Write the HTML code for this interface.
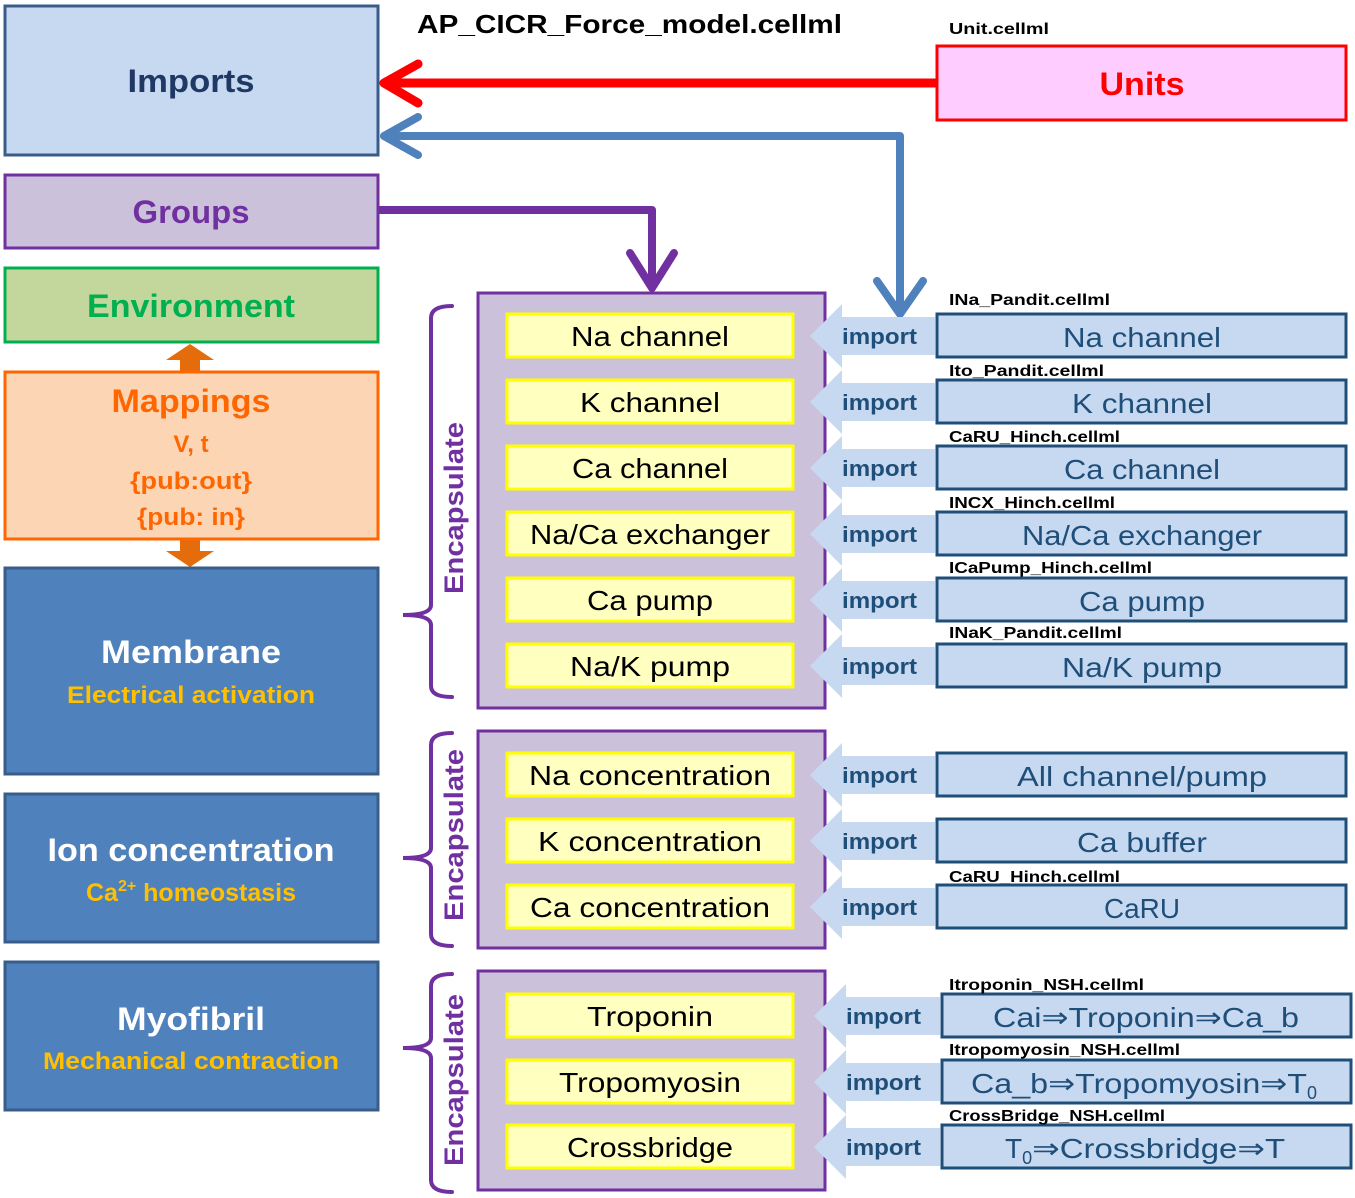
<!DOCTYPE html>
<html><head><meta charset="utf-8"><style>
html,body{margin:0;padding:0;background:#fff;}
svg{display:block;font-family:"Liberation Sans",sans-serif;}
.b{font-weight:bold;}
</style></head><body>
<svg width="1355" height="1198" viewBox="0 0 1355 1198" xmlns="http://www.w3.org/2000/svg">
<!-- Title -->
<text x="417" y="33" class="b" font-size="26" textLength="425" lengthAdjust="spacingAndGlyphs">AP_CICR_Force_model.cellml</text>
<text x="949" y="34" class="b" font-size="16" textLength="100" lengthAdjust="spacingAndGlyphs">Unit.cellml</text>

<!-- Left boxes -->
<rect x="5" y="6" width="373" height="149" fill="#c6d9f1" stroke="#385d8a" stroke-width="3"/>
<text x="191" y="92" text-anchor="middle" class="b" font-size="32" fill="#1f3864" textLength="127" lengthAdjust="spacingAndGlyphs">Imports</text>

<rect x="5" y="175" width="373" height="73" fill="#ccc1da" stroke="#7030a0" stroke-width="3"/>
<text x="191" y="223" text-anchor="middle" class="b" font-size="32" fill="#7030a0" textLength="117" lengthAdjust="spacingAndGlyphs">Groups</text>

<rect x="5" y="268" width="373" height="74" fill="#c3d69b" stroke="#00b050" stroke-width="3"/>
<text x="191" y="317" text-anchor="middle" class="b" font-size="32" fill="#00b050" textLength="208" lengthAdjust="spacingAndGlyphs">Environment</text>

<!-- orange double arrows -->
<polygon points="190,344 214,360 200,360 200,371 180,371 180,360 166,360" fill="#e46c0a"/>
<polygon points="190,567 214,551 200,551 200,540 180,540 180,551 166,551" fill="#e46c0a"/>

<rect x="5" y="372" width="373" height="167" fill="#fcd5b5" stroke="#ff6600" stroke-width="3"/>
<text x="191" y="412" text-anchor="middle" class="b" font-size="32" fill="#ff6600" textLength="159" lengthAdjust="spacingAndGlyphs">Mappings</text>
<text x="191" y="452" text-anchor="middle" class="b" font-size="24" fill="#ff6600">V, t</text>
<text x="191" y="489" text-anchor="middle" class="b" font-size="24" fill="#ff6600" textLength="122" lengthAdjust="spacingAndGlyphs">{pub:out}</text>
<text x="191" y="525" text-anchor="middle" class="b" font-size="24" fill="#ff6600" textLength="108" lengthAdjust="spacingAndGlyphs">{pub: in}</text>

<rect x="5" y="568" width="373" height="206" fill="#4f81bd" stroke="#385d8a" stroke-width="3"/>
<text x="191" y="663" text-anchor="middle" class="b" font-size="32" fill="#fff" textLength="180" lengthAdjust="spacingAndGlyphs">Membrane</text>
<text x="191" y="703" text-anchor="middle" class="b" font-size="24" fill="#ffc000" textLength="248" lengthAdjust="spacingAndGlyphs">Electrical activation</text>

<rect x="5" y="794" width="373" height="148" fill="#4f81bd" stroke="#385d8a" stroke-width="3"/>
<text x="191" y="861" text-anchor="middle" class="b" font-size="32" fill="#fff" textLength="287" lengthAdjust="spacingAndGlyphs">Ion concentration</text>
<text x="191" y="901" text-anchor="middle" class="b" font-size="25" fill="#ffc000">Ca<tspan font-size="16" dy="-10">2+</tspan><tspan dy="10"> homeostasis</tspan></text>

<rect x="5" y="962" width="373" height="148" fill="#4f81bd" stroke="#385d8a" stroke-width="3"/>
<text x="191" y="1030" text-anchor="middle" class="b" font-size="32" fill="#fff" textLength="148" lengthAdjust="spacingAndGlyphs">Myofibril</text>
<text x="191" y="1069" text-anchor="middle" class="b" font-size="24" fill="#ffc000" textLength="296" lengthAdjust="spacingAndGlyphs">Mechanical contraction</text>

<!-- Units -->
<rect x="937" y="46" width="409" height="74" fill="#ffccff" stroke="#ff0000" stroke-width="3"/>
<text x="1142" y="95" text-anchor="middle" class="b" font-size="32" fill="#ff0000" textLength="85" lengthAdjust="spacingAndGlyphs">Units</text>

<!-- Red arrow -->
<line x1="936" y1="83" x2="386" y2="83" stroke="#ff0000" stroke-width="9"/>
<polyline points="418,64 384,83 418,103" fill="none" stroke="#ff0000" stroke-width="9" stroke-linecap="round" stroke-linejoin="round"/>
<!-- Blue arrow -->
<polyline points="386,136 900,136 900,310" fill="none" stroke="#4f81bd" stroke-width="8" stroke-linejoin="round"/>
<polyline points="418,117 384,136 418,155" fill="none" stroke="#4f81bd" stroke-width="8" stroke-linecap="round" stroke-linejoin="round"/>
<polyline points="877,281 900,314 923,281" fill="none" stroke="#4f81bd" stroke-width="8" stroke-linecap="round" stroke-linejoin="round"/>
<!-- Purple arrow -->
<polyline points="378,210 652,210 652,285" fill="none" stroke="#7030a0" stroke-width="8" stroke-linejoin="round"/>
<polyline points="630,253 652,288 674,253" fill="none" stroke="#7030a0" stroke-width="8" stroke-linecap="round" stroke-linejoin="round"/>

<!-- Containers -->
<rect x="478" y="293" width="347" height="415" fill="#ccc1da" stroke="#7030a0" stroke-width="3"/>
<rect x="478" y="731" width="347" height="217" fill="#ccc1da" stroke="#7030a0" stroke-width="3"/>
<rect x="478" y="971" width="347" height="219" fill="#ccc1da" stroke="#7030a0" stroke-width="3"/>

<!-- Brackets -->
<g fill="none" stroke="#7030a0" stroke-width="4" stroke-linecap="round">
<path d="M452,306 Q431,306 431,318 L431,605 Q431,615 403,615 Q431,615 431,625 L431,686 Q431,697 452,697"/>
<path d="M452,733 Q431,733 431,745 L431,848 Q431,858 403,858 Q431,858 431,868 L431,934 Q431,946 452,946"/>
<path d="M452,974 Q431,974 431,986 L431,1038 Q431,1048 403,1048 Q431,1048 431,1058 L431,1180 Q431,1192 452,1192"/>
</g>
<g class="b" font-size="27" fill="#7030a0" text-anchor="middle">
<text transform="translate(463,508) rotate(-90)" textLength="172" lengthAdjust="spacingAndGlyphs">Encapsulate</text>
<text transform="translate(463,835) rotate(-90)" textLength="172" lengthAdjust="spacingAndGlyphs">Encapsulate</text>
<text transform="translate(463,1080) rotate(-90)" textLength="172" lengthAdjust="spacingAndGlyphs">Encapsulate</text>
</g>

<!-- Yellow boxes -->
<g fill="#ffffc0" stroke="#ffff00" stroke-width="3">
<rect x="507" y="314" width="286" height="43"/>
<rect x="507" y="380" width="286" height="43"/>
<rect x="507" y="446" width="286" height="43"/>
<rect x="507" y="512" width="286" height="43"/>
<rect x="507" y="578" width="286" height="43"/>
<rect x="507" y="644" width="286" height="43"/>
<rect x="507" y="753" width="286" height="43"/>
<rect x="507" y="819" width="286" height="43"/>
<rect x="507" y="885" width="286" height="43"/>
<rect x="507" y="994" width="286" height="43"/>
<rect x="507" y="1060" width="286" height="43"/>
<rect x="507" y="1125" width="286" height="43"/>
</g>
<g font-size="28" fill="#000" text-anchor="middle">
<text x="650" y="346" textLength="158" lengthAdjust="spacingAndGlyphs">Na channel</text>
<text x="650" y="412" textLength="140" lengthAdjust="spacingAndGlyphs">K channel</text>
<text x="650" y="478" textLength="156" lengthAdjust="spacingAndGlyphs">Ca channel</text>
<text x="650" y="544" textLength="240" lengthAdjust="spacingAndGlyphs">Na/Ca exchanger</text>
<text x="650" y="610" textLength="126" lengthAdjust="spacingAndGlyphs">Ca pump</text>
<text x="650" y="676" textLength="160" lengthAdjust="spacingAndGlyphs">Na/K pump</text>
<text x="650" y="785" textLength="242" lengthAdjust="spacingAndGlyphs">Na concentration</text>
<text x="650" y="851" textLength="224" lengthAdjust="spacingAndGlyphs">K concentration</text>
<text x="650" y="917" textLength="240" lengthAdjust="spacingAndGlyphs">Ca concentration</text>
<text x="650" y="1026" textLength="126" lengthAdjust="spacingAndGlyphs">Troponin</text>
<text x="650" y="1092" textLength="182" lengthAdjust="spacingAndGlyphs">Tropomyosin</text>
<text x="650" y="1157" textLength="166" lengthAdjust="spacingAndGlyphs">Crossbridge</text>
</g>

<!-- Import arrows -->
<g fill="#c6d9f1">
<polygon points="810,336 842,304 842,317 935,317 935,355 842,355 842,368"/>
<polygon points="810,402 842,370 842,383 935,383 935,421 842,421 842,434"/>
<polygon points="810,468 842,436 842,449 935,449 935,487 842,487 842,500"/>
<polygon points="810,534 842,502 842,515 935,515 935,553 842,553 842,566"/>
<polygon points="810,600 842,568 842,581 935,581 935,619 842,619 842,632"/>
<polygon points="810,666 842,634 842,647 935,647 935,685 842,685 842,698"/>
<polygon points="810,775 842,743 842,756 935,756 935,794 842,794 842,807"/>
<polygon points="810,841 842,809 842,822 935,822 935,860 842,860 842,873"/>
<polygon points="810,907 842,875 842,888 935,888 935,926 842,926 842,939"/>
<polygon points="814,1016 846,984 846,997 940,997 940,1035 846,1035 846,1048"/>
<polygon points="814,1082 846,1050 846,1063 940,1063 940,1101 846,1101 846,1114"/>
<polygon points="814,1147 846,1115 846,1128 940,1128 940,1166 846,1166 846,1179"/>
</g>
<g class="b" font-size="22" fill="#1f4e79">
<text x="842" y="344" textLength="75" lengthAdjust="spacingAndGlyphs">import</text>
<text x="842" y="410" textLength="75" lengthAdjust="spacingAndGlyphs">import</text>
<text x="842" y="476" textLength="75" lengthAdjust="spacingAndGlyphs">import</text>
<text x="842" y="542" textLength="75" lengthAdjust="spacingAndGlyphs">import</text>
<text x="842" y="608" textLength="75" lengthAdjust="spacingAndGlyphs">import</text>
<text x="842" y="674" textLength="75" lengthAdjust="spacingAndGlyphs">import</text>
<text x="842" y="783" textLength="75" lengthAdjust="spacingAndGlyphs">import</text>
<text x="842" y="849" textLength="75" lengthAdjust="spacingAndGlyphs">import</text>
<text x="842" y="915" textLength="75" lengthAdjust="spacingAndGlyphs">import</text>
<text x="846" y="1024" textLength="75" lengthAdjust="spacingAndGlyphs">import</text>
<text x="846" y="1090" textLength="75" lengthAdjust="spacingAndGlyphs">import</text>
<text x="846" y="1155" textLength="75" lengthAdjust="spacingAndGlyphs">import</text>
</g>

<!-- Right boxes -->
<g fill="#c6d9f1" stroke="#1f4e79" stroke-width="3">
<rect x="937" y="314" width="409" height="43"/>
<rect x="937" y="380" width="409" height="43"/>
<rect x="937" y="446" width="409" height="43"/>
<rect x="937" y="512" width="409" height="43"/>
<rect x="937" y="578" width="409" height="43"/>
<rect x="937" y="644" width="409" height="43"/>
<rect x="937" y="753" width="409" height="43"/>
<rect x="937" y="819" width="409" height="43"/>
<rect x="937" y="885" width="409" height="43"/>
<rect x="942" y="994" width="409" height="43"/>
<rect x="942" y="1060" width="409" height="43"/>
<rect x="942" y="1125" width="409" height="43"/>
</g>
<g font-size="28" fill="#1f4e79" text-anchor="middle">
<text x="1142" y="347" textLength="158" lengthAdjust="spacingAndGlyphs">Na channel</text>
<text x="1142" y="413" textLength="140" lengthAdjust="spacingAndGlyphs">K channel</text>
<text x="1142" y="479" textLength="156" lengthAdjust="spacingAndGlyphs">Ca channel</text>
<text x="1142" y="545" textLength="240" lengthAdjust="spacingAndGlyphs">Na/Ca exchanger</text>
<text x="1142" y="611" textLength="126" lengthAdjust="spacingAndGlyphs">Ca pump</text>
<text x="1142" y="677" textLength="160" lengthAdjust="spacingAndGlyphs">Na/K pump</text>
<text x="1142" y="786" textLength="250" lengthAdjust="spacingAndGlyphs">All channel/pump</text>
<text x="1142" y="852" textLength="130" lengthAdjust="spacingAndGlyphs">Ca buffer</text>
<text x="1142" y="918" textLength="76" lengthAdjust="spacingAndGlyphs">CaRU</text>
<text x="1146" y="1027" textLength="306" lengthAdjust="spacingAndGlyphs">Cai⇒Troponin⇒Ca_b</text>
</g>
<g font-size="28" fill="#1f4e79">
<text x="971" y="1093"><tspan textLength="336" lengthAdjust="spacingAndGlyphs">Ca_b⇒Tropomyosin⇒T</tspan><tspan font-size="18" dy="6">0</tspan></text>
<text x="1005" y="1158">T<tspan font-size="18" dy="6">0</tspan><tspan dy="-6" textLength="253" lengthAdjust="spacingAndGlyphs">⇒Crossbridge⇒T</tspan></text>
</g>

<!-- File labels -->
<g class="b" font-size="16" fill="#000" lengthAdjust="spacingAndGlyphs">
<text x="949" y="305" textLength="161" lengthAdjust="spacingAndGlyphs">INa_Pandit.cellml</text>
<text x="949" y="376" textLength="155" lengthAdjust="spacingAndGlyphs">Ito_Pandit.cellml</text>
<text x="949" y="442" textLength="171" lengthAdjust="spacingAndGlyphs">CaRU_Hinch.cellml</text>
<text x="949" y="508" textLength="166" lengthAdjust="spacingAndGlyphs">INCX_Hinch.cellml</text>
<text x="949" y="573" textLength="203" lengthAdjust="spacingAndGlyphs">ICaPump_Hinch.cellml</text>
<text x="949" y="638" textLength="173" lengthAdjust="spacingAndGlyphs">INaK_Pandit.cellml</text>
<text x="949" y="882" textLength="171" lengthAdjust="spacingAndGlyphs">CaRU_Hinch.cellml</text>
<text x="949" y="990" textLength="195" lengthAdjust="spacingAndGlyphs">Itroponin_NSH.cellml</text>
<text x="949" y="1055" textLength="231" lengthAdjust="spacingAndGlyphs">Itropomyosin_NSH.cellml</text>
<text x="949" y="1121" textLength="216" lengthAdjust="spacingAndGlyphs">CrossBridge_NSH.cellml</text>
</g>
</svg>
</body></html>
